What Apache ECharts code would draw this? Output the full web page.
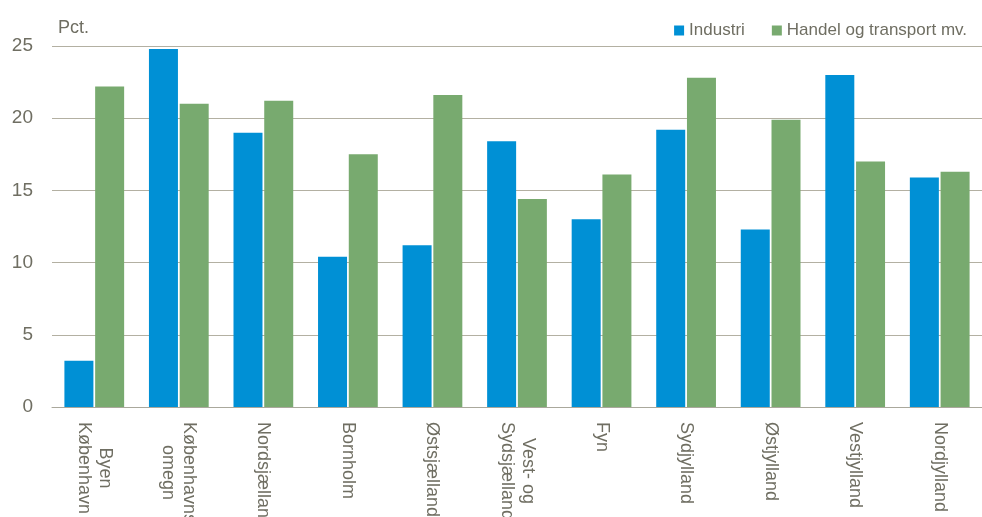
<!DOCTYPE html>
<html>
<head>
<meta charset="utf-8">
<script src="https://cdn.jsdelivr.net/npm/echarts@6/dist/echarts.min.js"></script>
<style>html,body{margin:0;padding:0;background:#fff}#c{width:982px;height:517px}</style>
</head>
<body>
<div id="c"></div>
<script>
const categories = ["Byen\nKøbenhavn", "Københavns\nomegn", "Nordsjælland", "Bornholm", "Østsjælland", "Vest- og\nSydsjælland", "Fyn", "Sydjylland", "Østjylland", "Vestjylland", "Nordjylland"];
const industri = [3.2, 24.8, 19.0, 10.4, 11.2, 18.4, 13.0, 19.2, 12.3, 23.0, 15.9];
const handel = [22.2, 21.0, 21.2, 17.5, 21.6, 14.4, 16.1, 22.8, 19.9, 17.0, 16.3];
const yTicks = [0, 5, 10, 15, 20, 25];

const FONT = "'Liberation Sans Narrow', 'Arial Narrow', 'Liberation Sans', Arial, sans-serif";
const TXT = '#6f6e62';
const chart = echarts.init(document.getElementById('c'));
chart.setOption({
  animation: false,
  textStyle: { fontFamily: FONT },
  title: {
    text: 'Pct.', left: 53, top: 14,
    textStyle: { fontFamily: FONT, fontSize: 18, fontWeight: 'normal', color: TXT }
  },
  legend: {
    right: 10, top: 17, icon: 'rect', itemWidth: 10, itemHeight: 10, itemGap: 27,
    textStyle: { fontFamily: FONT, fontSize: 17, color: TXT },
    data: ['Industri', 'Handel og transport mv.']
  },
  grid: { left: 52, right: 0, top: 46, bottom: 110, containLabel: false, outerBoundsMode: 'none' },
  xAxis: {
    type: 'category',
    data: categories,
    axisLine: { lineStyle: { color: '#aaa89c', width: 1 } },
    axisTick: { show: false },
    axisLabel: {
      rotate: -90, margin: 15, interval: 0,
      formatter: v => v.split('\n').map(l => '{c|' + l + '}').join('\n'),
      rich: { c: { align: 'center', fontFamily: FONT, fontSize: 18, color: TXT, lineHeight: 21 } }
    }
  },
  yAxis: {
    type: 'value', min: yTicks[0], max: yTicks[yTicks.length - 1], interval: 5,
    axisLine: { show: false }, axisTick: { show: false },
    axisLabel: { margin: 19, fontFamily: FONT, fontSize: 19, color: TXT },
    splitLine: { lineStyle: { color: '#b3b0a2', width: 1 } }
  },
  series: [
    { name: 'Industri', type: 'bar', data: industri, barWidth: 29, barGap: '6%',
      itemStyle: { color: '#0090d5' } },
    { name: 'Handel og transport mv.', type: 'bar', data: handel, barWidth: 29,
      itemStyle: { color: '#78aa6f' } }
  ]
});
</script>
</body>
</html>
